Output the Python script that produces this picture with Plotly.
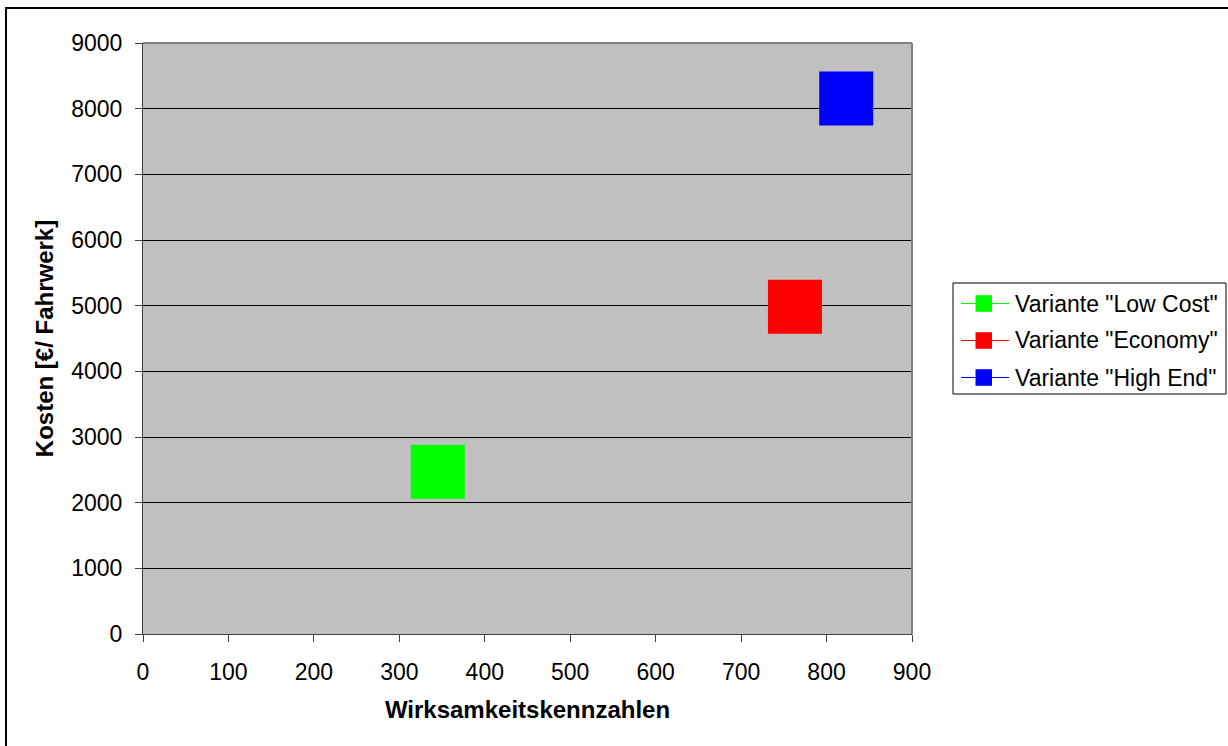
import plotly.graph_objects as go

# Series: effectiveness index vs. cost per chassis
series_names = ['Variante "Low Cost"', 'Variante "Economy"', 'Variante "High End"']
series_colors = ["#00ff00", "#ff0000", "#0000ff"]
wirksamkeit = [345, 763, 823]
kosten = [2470, 4985, 8155]

x_ticks = [0, 100, 200, 300, 400, 500, 600, 700, 800, 900]
y_ticks = [0, 1000, 2000, 3000, 4000, 5000, 6000, 7000, 8000, 9000]

W, H = 1228, 746
ML, MR, MT, MB = 143, 316, 43, 112
PW, PH = W - ML - MR, H - MT - MB

def px(x):
    return (x - ML) / PW

def py(y):
    return (H - MB - y) / PH

FONT = "Liberation Sans, Arial, sans-serif"
TICK_SIZE = 23
TITLE_SIZE = 24

fig = go.Figure()
for name, color, xv, yv in zip(series_names, series_colors, wirksamkeit, kosten):
    fig.add_trace(go.Scatter(
        x=[xv], y=[yv], mode="markers", name=name,
        marker=dict(symbol="square", size=54, color=color, line=dict(width=0)),
        showlegend=False,
    ))

shapes = []
annotations = []

# outer chart frame
shapes.append(dict(type="rect", xref="paper", yref="paper",
                   x0=px(6), x1=px(1240), y0=py(760), y1=py(8),
                   line=dict(color="#000000", width=2), layer="below"))
# plot area border (top and right)
shapes.append(dict(type="line", xref="paper", yref="paper",
                   x0=0, x1=1, y0=1, y1=1, line=dict(color="#808080", width=2)))
shapes.append(dict(type="line", xref="paper", yref="paper",
                   x0=1, x1=1, y0=0, y1=1, line=dict(color="#808080", width=2)))

# legend box
lx0, lx1, ly0, ly1 = 953, 1226, 283, 394
shapes.append(dict(type="rect", xref="paper", yref="paper",
                   x0=px(lx0), x1=px(lx1), y0=py(ly1), y1=py(ly0),
                   line=dict(color="#000000", width=1), fillcolor="white"))
row_y = [303.5, 340.5, 377.5]
for name, color, ry in zip(series_names, series_colors, row_y):
    shapes.append(dict(type="line", xref="paper", yref="paper",
                       x0=px(961), x1=px(1009), y0=py(ry), y1=py(ry),
                       line=dict(color=color, width=1)))
    shapes.append(dict(type="rect", xref="paper", yref="paper",
                       x0=px(975.5), x1=px(992), y0=py(ry + 8.3), y1=py(ry - 8.3),
                       line=dict(width=0), fillcolor=color))
    annotations.append(dict(text=name, xref="paper", yref="paper",
                            x=px(1013), y=py(ry), xanchor="left", yanchor="middle",
                            showarrow=False,
                            font=dict(family=FONT, size=TICK_SIZE, color="black")))

fig.update_layout(
    width=W, height=H,
    margin=dict(l=ML, r=MR, t=MT, b=MB),
    paper_bgcolor="white",
    plot_bgcolor="#c0c0c0",
    font=dict(family=FONT, size=TICK_SIZE, color="black"),
    shapes=shapes,
    annotations=annotations,
    showlegend=False,
    xaxis=dict(
        range=[0, 900], tickvals=x_ticks, ticktext=[str(v) for v in x_ticks],
        showgrid=False, zeroline=False,
        showline=True, linecolor="#404040", linewidth=1,
        ticks="outside", ticklen=7, tickcolor="#404040",
        tickfont=dict(size=TICK_SIZE), ticklabelstandoff=10,
        title=dict(text="<b>Wirksamkeitskennzahlen</b>", font=dict(size=TITLE_SIZE), standoff=17),
    ),
    yaxis=dict(
        range=[0, 9000], tickvals=y_ticks, ticktext=[str(v) for v in y_ticks],
        showgrid=True, gridcolor="#000000", gridwidth=1,
        zeroline=False,
        showline=True, linecolor="#404040", linewidth=1,
        ticks="outside", ticklen=7, tickcolor="#404040",
        tickfont=dict(size=TICK_SIZE), ticklabelstandoff=8,
        title=dict(text="<b>Kosten [€/ Fahrwerk]</b>", font=dict(size=TITLE_SIZE), standoff=10),
    ),
)

fig.write_html("out.html")
